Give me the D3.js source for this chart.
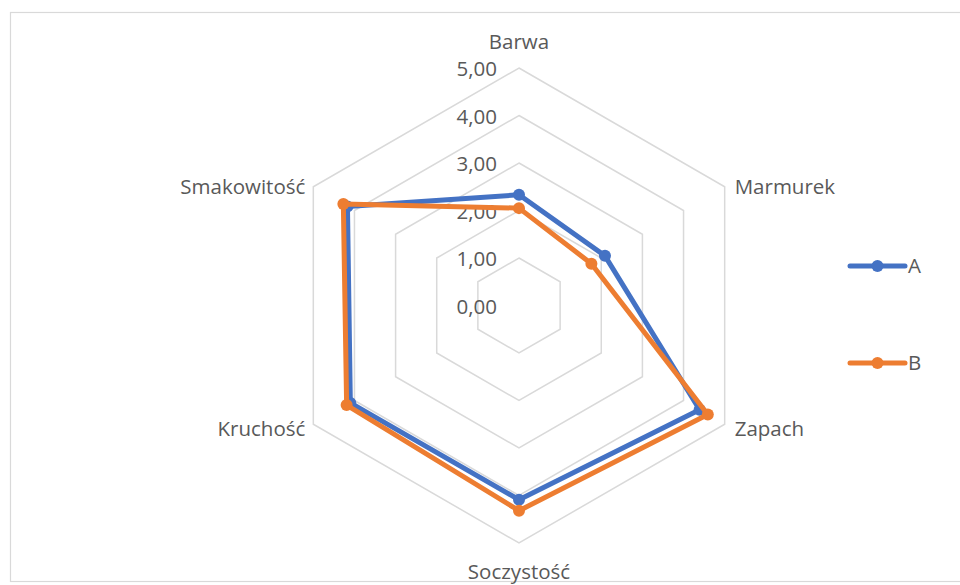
<!DOCTYPE html>
<html><head><meta charset="utf-8">
<script src="https://cdn.jsdelivr.net/npm/d3@7"></script>
<style>body{margin:0;background:#fff}svg text{font-family:"Open Sans",sans-serif;fill:#595959}</style>
</head><body><svg id="c" width="960" height="585"></svg>
<script>
const categories = ["Barwa","Marmurek","Zapach","Soczystość","Kruchość","Smakowitość"];
const seriesNames = ["A","B"];
const valuesA = [2.33, 2.09, 4.39, 4.09, 4.10, 4.17];
const valuesB = [2.05, 1.76, 4.59, 4.32, 4.19, 4.27];
const tickValues = [0,1,2,3,4,5];
const tickLabels = ["0,00","1,00","2,00","3,00","4,00","5,00"];
const colors = ["#4472C4","#ED7D31"];

const svg = d3.select("#c");
const cx = 519, cy = 305.5;
const fs = 20.5;
const r = d3.scaleLinear().domain([0,5]).range([0,237.5]);
const ang = d3.scalePoint().domain(categories.concat(["_end"])).range([0, 2*Math.PI]);
const pt = (c,v)=>{const a=ang(c); return [cx + r(v)*Math.sin(a), cy - r(v)*Math.cos(a)];};

svg.append("rect").attr("x",10.5).attr("y",12.5).attr("width",960).attr("height",569)
  .attr("fill","#fff").attr("stroke","#d9d9d9").attr("stroke-width",1.2);

const g = svg.append("g");
tickValues.slice(1).forEach(t=>{
  g.append("path").attr("d", d3.line()(categories.map(c=>pt(c,t))) + "Z")
   .attr("fill","none").attr("stroke","#d9d9d9").attr("stroke-width",1.5);
});
tickValues.forEach((t,i)=>{
  g.append("text").attr("x",cx-22).attr("y",cy - r(t) + 8)
   .attr("text-anchor","end").attr("font-size",fs).text(tickLabels[i]);
});
const labelPos = [
  {dx:0, dy:-19, anchor:"middle"},
  {dx:10, dy:7, anchor:"start"},
  {dx:10, dy:12, anchor:"start"},
  {dx:0, dy:36, anchor:"middle"},
  {dx:-8, dy:12, anchor:"end"},
  {dx:-8, dy:7, anchor:"end"}
];
categories.forEach((c,i)=>{
  const p = pt(c,5);
  g.append("text").attr("x",p[0]+labelPos[i].dx).attr("y",p[1]+labelPos[i].dy)
   .attr("text-anchor",labelPos[i].anchor).attr("font-size",fs).text(c);
});
[valuesA, valuesB].forEach((vals,si)=>{
  const pts = categories.map((c,i)=>pt(c,vals[i]));
  g.append("path").attr("d", d3.line()(pts)+"Z").attr("fill","none")
   .attr("stroke",colors[si]).attr("stroke-width",5).attr("stroke-linejoin","round");
  g.selectAll(null).data(pts).enter().append("circle")
   .attr("cx",d=>d[0]).attr("cy",d=>d[1]).attr("r",6).attr("fill",colors[si]);
});
const ly = d3.scalePoint().domain(seriesNames).range([266,363]);
seriesNames.forEach((s,i)=>{
  const y = ly(s);
  svg.append("line").attr("x1",850).attr("x2",905).attr("y1",y).attr("y2",y)
    .attr("stroke",colors[i]).attr("stroke-width",5).attr("stroke-linecap","round");
  svg.append("circle").attr("cx",877.5).attr("cy",y).attr("r",6).attr("fill",colors[i]);
  svg.append("text").attr("x",908).attr("y",y+7).attr("font-size",fs).text(s);
});
</script></body></html>
